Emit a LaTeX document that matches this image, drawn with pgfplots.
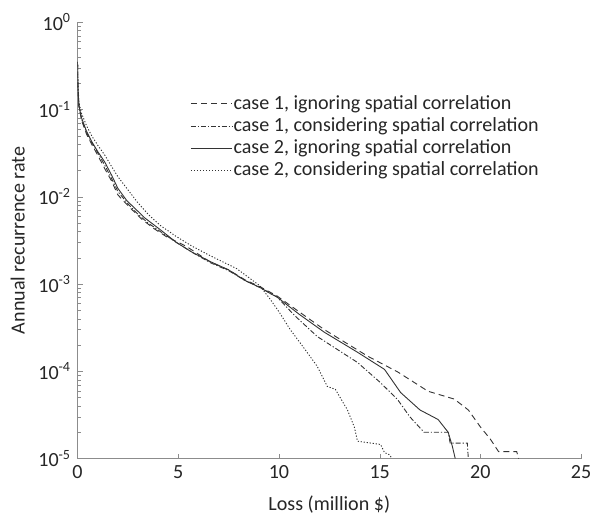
\documentclass[border={4pt 0pt 4pt 7pt}]{standalone}
\usepackage{pgfplots}
\pgfplotsset{compat=1.18}
\usepackage{fontspec}
\setmainfont{Carlito}
\begin{document}
\fontsize{20}{24}\selectfont
\begin{tikzpicture}
\begin{axis}[
  scale only axis,
  width=502pt, height=435pt,
  ymode=log,
  xmin=0, xmax=25, ymin=1e-5, ymax=1,
  axis x line=bottom, axis y line=left,
  axis line style={-, black!45},
  tick style={black!45},
  major tick length=5pt, minor tick length=3pt,
  tick align=inside,
  xtick={0,5,10,15,20,25},
  ytick={1e-5,1e-4,1e-3,1e-2,1e-1,1},
  yticklabels={10\textsuperscript{-5},10\textsuperscript{-4},10\textsuperscript{-3},10\textsuperscript{-2},10\textsuperscript{-1},10\textsuperscript{0}},
  /pgf/number format/assume math mode=true,
  every tick label/.append style={font=\fontsize{20}{24}\selectfont, black!85},
  label style={font=\fontsize{20}{24}\selectfont, black!85},
  xlabel={Loss (million \$)},
  ylabel={Annual recurrence rate},
  xlabel style={yshift=-4pt},
  ylabel style={yshift=0pt},
  legend cell align=left,
  legend style={draw=none, fill=none, at={(axis cs:5.6,0.15)}, anchor=north west,
    font=\fontsize{20}{24}\selectfont, text=black!85, row sep=3.3pt, inner sep=0pt,
    nodes={inner sep=1pt}},
  legend image code/.code={\draw[#1] (0pt,0pt) -- (41pt,0pt);},
  every axis plot/.append style={line width=0.9pt, black!80},
]
\addplot[dash pattern=on 6pt off 4pt] coordinates {
(0,0.35) (0.02,0.19) (0.07,0.11) (0.2,0.075) (0.45,0.052) (0.7,0.04) (1.0,0.03) (1.35,0.021) (1.7,0.015) (2.0,0.0105) (2.6,0.0075) (3.2,0.0055) (3.8,0.0043) (4.4,0.0035) (5.4,0.0027) (6.6,0.00178) (7.5,0.00145) (8.3,0.00112) (9.1,0.00092) (9.9,0.00073) (11.0,0.00048) (12.25,0.00030) (14.4,0.000149) (15.9,0.000098) (17.4,0.000059) (18.7,0.000048) (19.4,0.000036) (20.0,0.000023) (20.5,0.0000166) (20.9,0.000012) (21.8,0.000012) (21.9,0.00001)
};
\addlegendentry{case 1, ignoring spatial correlation}
\addplot[dash pattern=on 5pt off 2pt on 1.2pt off 2pt] coordinates {
(0,0.35) (0.02,0.19) (0.07,0.11) (0.2,0.078) (0.45,0.054) (0.7,0.042) (1.0,0.032) (1.35,0.023) (1.7,0.016) (2.0,0.0115) (2.5,0.0083) (3.0,0.0063) (3.5,0.005) (4.1,0.004) (4.9,0.003) (5.7,0.0023) (6.6,0.00175) (7.5,0.00142) (8.3,0.0011) (9.1,0.0009) (9.9,0.00071) (10.8,0.00043) (11.9,0.00025) (13.9,0.000126) (15.04,0.000074) (15.9,0.000047) (16.5,0.00003) (17.2,0.00002) (18.4,0.00002) (18.5,0.000015) (19.35,0.000015) (19.4,0.00001)
};
\addlegendentry{case 1, considering spatial correlation}
\addplot[solid] coordinates {
(0,0.35) (0.02,0.19) (0.07,0.11) (0.2,0.08) (0.45,0.056) (0.7,0.043) (1.0,0.033) (1.35,0.025) (1.7,0.0175) (2.0,0.0125) (2.45,0.009) (3.0,0.0068) (3.3,0.0058) (4.1,0.0042) (4.9,0.0030) (5.7,0.0023) (6.6,0.0018) (7.5,0.00145) (8.3,0.0011) (9.1,0.0009) (9.6,0.00077) (9.9,0.00071) (11.0,0.00045) (12.25,0.00028) (13.9,0.000165) (15.24,0.000105) (16.04,0.000057) (17.0,0.000036) (17.9,0.000028) (18.4,0.00002) (18.6,0.000014) (18.75,0.00001)
};
\addlegendentry{case 2, ignoring spatial correlation}
\addplot[dash pattern=on 1.2pt off 1.8pt] coordinates {
(0,0.35) (0.02,0.2) (0.07,0.12) (0.2,0.09) (0.45,0.065) (0.7,0.05) (1.0,0.039) (1.35,0.03) (1.7,0.022) (2.0,0.017) (2.5,0.012) (3.0,0.0085) (3.5,0.0063) (4.1,0.0047) (4.9,0.0035) (5.7,0.0027) (6.6,0.0021) (7.9,0.0015) (9.06,0.00095) (9.56,0.00067) (10.0,0.00048) (10.56,0.0003) (11.2,0.00019) (11.9,0.000114) (12.4,0.000067) (12.8,0.000062) (13.4,0.000036) (13.74,0.000023) (13.9,0.0000158) (15.04,0.0000145) (15.24,0.0000117) (15.5,0.000011) (15.6,0.00001)
};
\addlegendentry{case 2, considering spatial correlation}
\end{axis}
\end{tikzpicture}
\end{document}
